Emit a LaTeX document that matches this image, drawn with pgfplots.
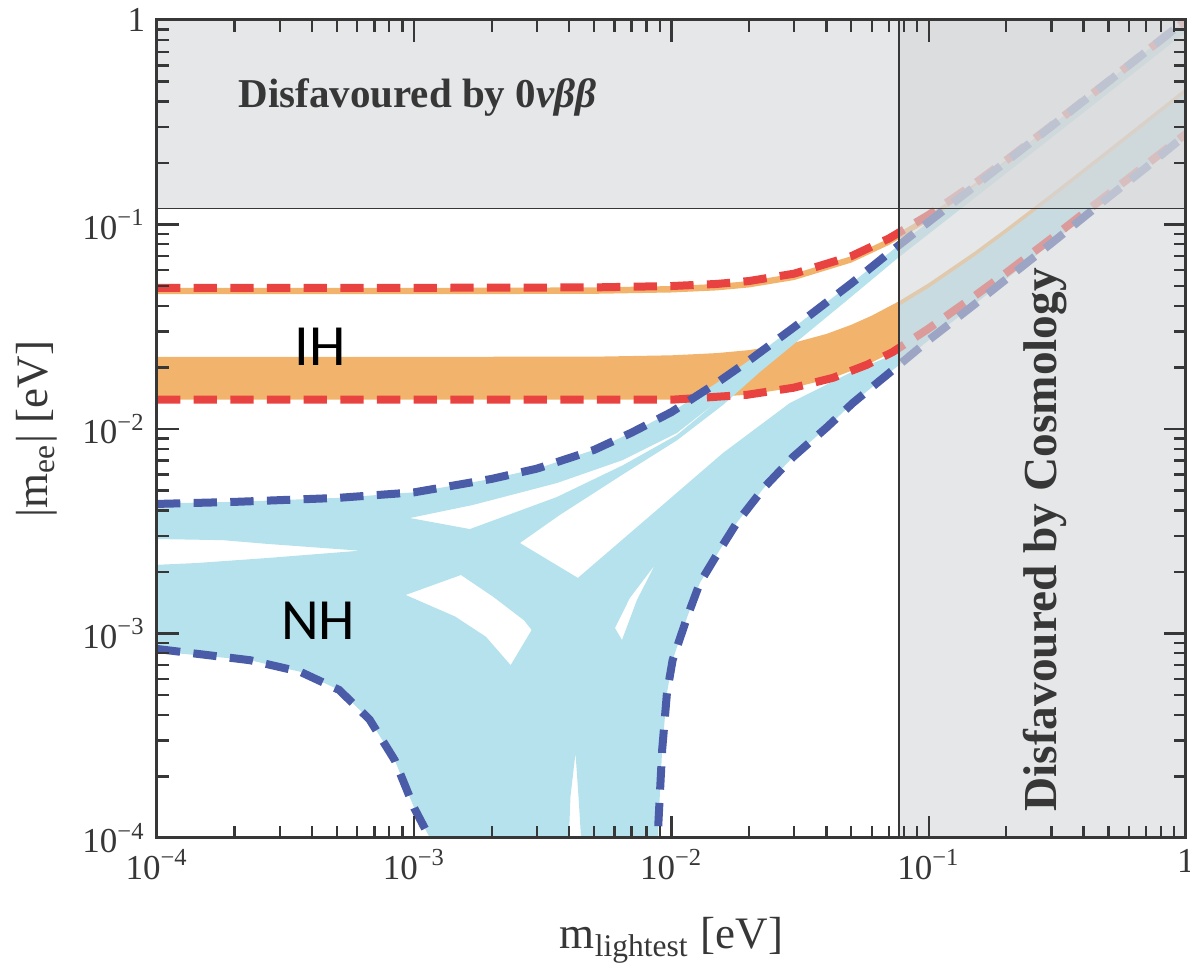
\documentclass[border=0pt]{standalone}
\usepackage{fontspec}
\setmainfont{Liberation Serif}
\newfontfamily\calibri{Carlito}
\usepackage{pgfplots}
\pgfplotsset{compat=1.18}

\definecolor{ihorange}{RGB}{242,180,108}
\definecolor{nhblue}{RGB}{181,226,236}
\definecolor{ihred}{RGB}{232,67,64}
\definecolor{nhdash}{RGB}{74,91,168}
\definecolor{veil}{RGB}{213,215,217}
\definecolor{axisgray}{RGB}{55,55,55}

\begin{document}
\begin{tikzpicture}
\begin{axis}[
  name=ax, at={(0pt,0pt)}, anchor=south west,
  scale only axis, width=308.7pt, height=245.4pt,
  xmode=log, ymode=log, xmin=1e-4, xmax=1, ymin=1e-4, ymax=1,
  axis on top, tick align=inside,
  xtick pos=both, ytick pos=both, xticklabel pos=lower, yticklabel pos=left,
  xtick={1e-4,1e-3,1e-2,1e-1,1}, ytick={1e-4,1e-3,1e-2,1e-1,1},
  xticklabels={10\textsuperscript{−4},10\textsuperscript{−3},10\textsuperscript{−2},10\textsuperscript{−1},1},
  yticklabels={10\textsuperscript{−4},10\textsuperscript{−3},10\textsuperscript{−2},10\textsuperscript{−1},1},
  minor xtick={2e-4,3e-4,4e-4,5e-4,6e-4,7e-4,8e-4,9e-4,2e-3,3e-3,4e-3,5e-3,6e-3,7e-3,8e-3,9e-3,
    2e-2,3e-2,4e-2,5e-2,6e-2,7e-2,8e-2,9e-2,0.2,0.3,0.4,0.5,0.6,0.7,0.8,0.9},
  minor ytick={2e-4,3e-4,4e-4,5e-4,6e-4,7e-4,8e-4,9e-4,2e-3,3e-3,4e-3,5e-3,6e-3,7e-3,8e-3,9e-3,
    2e-2,3e-2,4e-2,5e-2,6e-2,7e-2,8e-2,9e-2,0.2,0.3,0.4,0.5,0.6,0.7,0.8,0.9},
  major tick length=6.6pt, minor tick length=3.6pt,
  axis line style={axisgray, line width=0.9pt},
  tick style={axisgray, line width=0.7pt},
  tick label style={font=\fontsize{10.5}{12}\selectfont, text=axisgray},
  xlabel={m\textsubscript{lightest} [eV]},
  ylabel={|m\textsubscript{ee}| [eV]},
  label style={font=\fontsize{13.5}{16}\selectfont, text=axisgray},
  xlabel style={at={(axis description cs:0.5,-0.125)}, anchor=center},
  ylabel style={at={(axis description cs:-0.117,0.5)}, anchor=center},
]

% IH upper thin band
\addplot[draw=none, fill=ihorange] coordinates {
(1e-4,0.049)(1e-3,0.049)(5e-3,0.04925)(1e-2,0.05)(1.5e-2,0.0512)(2e-2,0.0529)(3e-2,0.0575)(5e-2,0.07)(7e-2,0.0854)(0.1,0.1114)(0.15,0.1578)(0.2,0.2059)(0.3,0.304)(0.5,0.5024)(0.7,0.7017)(1,1.0012)
(1,0.931)(0.7,0.6526)(0.5,0.4672)(0.3,0.2827)(0.2,0.1915)(0.15,0.1468)(0.1,0.1036)(7e-2,0.0794)(5e-2,0.0651)(3e-2,0.0535)(2e-2,0.0492)(1.5e-2,0.0476)(1e-2,0.0465)(5e-3,0.0458)(1e-3,0.0456)(1e-4,0.0456)};

% IH main band
\addplot[draw=none, fill=ihorange] coordinates {
(1e-4,0.0225)(5e-3,0.02257)(1e-2,0.02292)(0.015,0.0235)(0.02,0.0243)(0.03,0.02643)(0.04,0.02915)(0.05,0.03232)(0.06,0.03581)(0.0766,0.0421)(0.1,0.05163)(0.15,0.07323)(0.2,0.09567)(0.3,0.1413)(0.5,0.2336)(0.7,0.3263)(1,0.4655)
(1,0.278)(0.7,0.196)(0.5,0.141)(0.3,0.0855)(0.2,0.058)(0.15,0.0445)(0.1,0.031)(0.0725,0.0238)(0.0575,0.0206)(0.0425,0.0178)(0.0297,0.0159)(0.0197,0.0147)(1e-2,0.0139)(1e-4,0.0139)};

% NH region, with the empty pockets cut out
\addplot[draw=none, fill=nhblue, even odd rule, unbounded coords=jump] coordinates {
(8e-5,0.0043)(2e-4,0.0044)(5e-4,0.0046)(1e-3,0.0049)(2e-3,0.0057)(3e-3,0.0064)(5e-3,0.0079)(7e-3,0.0096)(1e-2,0.0121)(1.5e-2,0.0168)(2e-2,0.0216)(3e-2,0.0315)(5e-2,0.0515)(7e-2,0.0725)(0.1,0.103)(0.15,0.153)(0.2,0.203)(0.3,0.302)(0.5,0.501)(0.7,0.701)(1.05,1.05)
(1.05,0.29)(0.7,0.19)(0.5,0.136)(0.3,0.081)(0.2,0.054)(0.15,0.0405)(0.1,0.0272)(0.075,0.0201)(0.063,0.0168)(0.0507,0.0134)(0.0402,0.0102)(0.0297,0.0073)(0.023,0.0052)(0.018,0.0035)(0.0154,0.00256)(0.0129,0.00177)(0.0115,0.0012)(0.0101,0.00074)(0.0096,0.00051)(0.0092,0.00027)(0.0089,0.00012)(0.0088,5e-5)
(1.18e-3,5e-5)(1.15e-3,1e-4)(1.0e-3,1.4e-4)(8.4e-4,2.4e-4)(6.7e-4,3.8e-4)(5.1e-4,5.3e-4)(3.6e-4,6.5e-4)(2.3e-4,7.4e-4)(8e-5,8.4e-4)
(1e-3,nan)
(9.5e-5,0.0029)(1.8e-4,0.00286)(2.7e-4,0.00274)(6.15e-4,0.00254)(2.7e-4,0.00234)(1.42e-4,0.00221)(9.5e-5,0.00216)
(1e-3,nan)
(9.62e-4,0.00367)(1.69e-3,0.00425)(3.586e-3,0.00544)(6.475e-3,0.00705)(0.0105,0.00956)(0.01585,0.01434)(0.0105,0.00935)(6.475e-3,0.00665)(3.586e-3,0.00465)(1.646e-3,0.00324)
(1e-3,nan)
(2.575e-3,0.00277)(3.684e-3,0.0038)(6.475e-3,0.0060)(0.0105,0.0088)(0.01585,0.0131)(0.02206,0.0190)(0.03155,0.0275)(0.04935,0.0437)(0.07585,0.0686)(0.1,0.09)(0.2,0.178)(0.5,0.44)(1,0.875)
(1,0.442)(0.7,0.31)(0.5,0.222)(0.3,0.134)(0.2,0.0909)(0.15,0.0696)(0.1,0.049)(0.0768,0.04)(0.0758,0.0236)(0.04935,0.0188)(0.02885,0.0134)(0.01585,0.00763)(8.776e-3,0.004018)(4.327e-3,0.00187)
(1e-3,nan)
(9.26e-4,1.543e-3)(1.519e-3,1.932e-3)(2.03e-3,1.51e-3)(2.67e-3,1.16e-3)(2.86e-3,1.04e-3)(2.37e-3,7.0e-4)(1.90e-3,9.64e-4)(1.443e-3,1.21e-3)
(1e-3,nan)
(8.62e-3,2.163e-3)(6.89e-3,1.491e-3)(6.03e-3,1.064e-3)(6.42e-3,9.29e-4)(7.34e-3,1.458e-3)
(1e-3,nan)
(3.95e-3,7e-5)(4.05e-3,1.6e-4)(4.235e-3,2.6e-4)(4.35e-3,1.6e-4)(4.53e-3,7e-5)
};

% dashed bounds
\tikzset{bound/.style={line width=2.4pt, dash pattern=on 7pt off 4pt}}
\addplot[bound, ihred] coordinates {
(1e-4,0.049)(1e-3,0.049)(5e-3,0.04925)(1e-2,0.05)(1.5e-2,0.0512)(2e-2,0.0529)(3e-2,0.0575)(5e-2,0.07)(7e-2,0.0854)(0.1,0.1114)(0.15,0.1578)(0.2,0.2059)(0.3,0.304)(0.5,0.5024)(0.7,0.7017)(1,1.0012)};
\addplot[bound, ihred] coordinates {
(1e-4,0.0139)(1e-2,0.0139)(0.0197,0.0147)(0.0297,0.0159)(0.0425,0.0178)(0.0575,0.0206)(0.0725,0.0238)(0.1,0.031)(0.15,0.0445)(0.2,0.058)(0.3,0.0855)(0.5,0.141)(0.7,0.196)(1,0.278)};
\addplot[bound, nhdash] coordinates {
(1e-4,0.0043)(2e-4,0.0044)(5e-4,0.0046)(1e-3,0.0049)(2e-3,0.0057)(3e-3,0.0064)(5e-3,0.0079)(7e-3,0.0096)(1e-2,0.0121)(1.5e-2,0.0168)(2e-2,0.0216)(3e-2,0.0315)(5e-2,0.0515)(7e-2,0.0725)(0.1,0.103)(0.15,0.153)(0.2,0.203)(0.3,0.302)(0.5,0.501)(0.7,0.701)(1,1.0)};
\addplot[bound, nhdash] coordinates {
(1e-4,8.4e-4)(2.3e-4,7.4e-4)(3.6e-4,6.5e-4)(5.1e-4,5.3e-4)(6.7e-4,3.8e-4)(8.4e-4,2.4e-4)(1.0e-3,1.4e-4)(1.15e-3,1e-4)(1.18e-3,5e-5)};
\addplot[bound, nhdash] coordinates {
(0.0088,5e-5)(0.0089,0.00012)(0.0092,0.00027)(0.0096,0.00051)(0.0101,0.00074)(0.0115,0.0012)(0.0129,0.00177)(0.0154,0.00256)(0.018,0.0035)(0.023,0.0052)(0.0297,0.0073)(0.0402,0.0102)(0.0507,0.0134)(0.063,0.0168)(0.075,0.0201)(0.1,0.0272)(0.15,0.0405)(0.2,0.054)(0.3,0.081)(0.5,0.136)(0.7,0.19)(1,0.275)};

% disfavoured regions
\addplot[draw=none, fill=veil, fill opacity=0.6] coordinates {(1e-4,0.12)(1,0.12)(1,1)(1e-4,1)};
\addplot[draw=none, fill=veil, fill opacity=0.6] coordinates {(0.0766,1e-4)(1,1e-4)(1,1)(0.0766,1)};
\addplot[axisgray, line width=0.45pt] coordinates {(1e-4,0.12)(1,0.12)};
\addplot[axisgray, line width=0.45pt] coordinates {(0.0766,1e-4)(0.0766,1)};

\node[font=\bfseries\fontsize{12.3}{14}\selectfont, text=axisgray] at (axis cs:1.03e-3,0.416) {Disfavoured by 0\textit{νββ}};
\node[font=\bfseries\fontsize{14.2}{16}\selectfont, text=axisgray, rotate=90] at (axis cs:0.2825,0.00287) {Disfavoured by Cosmology};
\node[font=\calibri\fontsize{17.5}{20}\selectfont] at (axis cs:4.3e-4,0.0252) {IH};
\node[font=\calibri\fontsize{17.5}{20}\selectfont] at (axis cs:4.23e-4,0.00116) {NH};
\end{axis}
\pgfresetboundingbox
\path[use as bounding box] (ax.south west) ++(-47.1pt,-42.6pt) rectangle ([xshift=1.2pt,yshift=6pt]ax.north east);
\end{tikzpicture}
\end{document}
